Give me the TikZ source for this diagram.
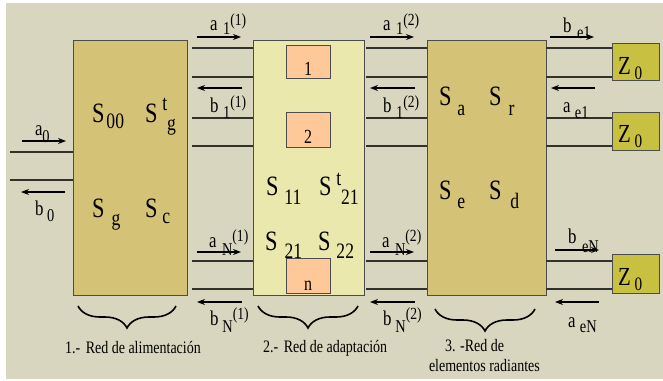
\documentclass[tikz,border=0pt]{standalone}
\usepackage{fontspec}
\setmainfont{Liberation Serif}
\usetikzlibrary{arrows.meta,decorations.pathreplacing}
\definecolor{bgc}{RGB}{217,214,192}
\definecolor{tanc}{RGB}{212,194,118}
\definecolor{palec}{RGB}{234,232,172}
\definecolor{salm}{RGB}{255,200,152}
\definecolor{olivc}{RGB}{200,192,64}
\definecolor{lnc}{RGB}{50,50,45}
\newcommand{\cx}[1]{\scalebox{0.8}[1]{#1}}
\newcommand{\bs}{\fontsize{21}{21}\selectfont}
\newcommand{\sbb}[2]{\raisebox{-#1pt}{\fontsize{18}{18}\selectfont #2}}
\newcommand{\spp}[2]{\raisebox{#1pt}{\fontsize{17}{17}\selectfont #2}}
\newcommand{\Sbig}{\fontsize{28}{28}\selectfont S}
\newcommand{\Ssb}[2]{\raisebox{-#1pt}{\fontsize{22}{22}\selectfont #2}}
\newcommand{\Ssp}[2]{\raisebox{#1pt}{\fontsize{22}{22}\selectfont #2}}
\newcommand{\Zl}{\cx{\fontsize{26}{26}\selectfont Z\hspace{5pt}\raisebox{-5pt}{\fontsize{19}{19}\selectfont 0}}}
\begin{document}
\begin{tikzpicture}[x=1pt,y=-1pt,
  blk/.style={draw=black!70,line width=0.9pt,anchor=north west,inner sep=0,outer sep=0},
  ln/.style={draw=lnc,line width=1.2pt},
  arr/.style={draw=black,line width=1.1pt,-{Stealth[length=8pt,width=6pt]}},
  lab/.style={anchor=base west,inner sep=0,outer sep=0},
  brc/.style={draw=black,line width=1.6pt,decorate,decoration={brace,mirror,amplitude=22pt,aspect=0.5}},
  captxt/.style={anchor=base west,inner sep=0,outer sep=0,font=\fontsize{17.5}{17.5}\selectfont}]
\useasboundingbox (0,0) rectangle (663,380);
\fill[white] (0,0) rectangle (663,380);
\fill[bgc] (6,3) rectangle (663,379);

% blocks
\node[blk,fill=tanc,minimum width=114pt,minimum height=255pt] (B1) at (73,40) {};
\node[blk,fill=palec,minimum width=111pt,minimum height=255pt] (B2) at (253,40) {};
\node[blk,fill=tanc,minimum width=119pt,minimum height=255pt] (B3) at (427,40) {};

% small boxes in block 2
\node[blk,fill=salm,minimum width=44pt,minimum height=33pt] (n1) at (286,45) {};
\node[blk,fill=salm,minimum width=44pt,minimum height=35pt] (n2) at (286,112) {};
\node[blk,fill=salm,minimum width=44pt,minimum height=35pt] (nn) at (286,258) {};
\node[lab,anchor=base] (t1) at (308,75) {\cx{\fontsize{20}{20}\selectfont 1}};
\node[lab,anchor=base] (t2) at (308,143) {\cx{\fontsize{20}{20}\selectfont 2}};
\node[lab,anchor=base] (tn) at (308,290) {\cx{\fontsize{20}{20}\selectfont n}};

% Z0 loads
\node[blk,fill=olivc,minimum width=47pt,minimum height=37pt] (Z1) at (612,43) {};
\node[blk,fill=olivc,minimum width=47pt,minimum height=38pt] (Z2) at (612,112) {};
\node[blk,fill=olivc,minimum width=47pt,minimum height=39pt] (Z3) at (612,254) {};
\node[lab] (z1t) at (618,74) {\Zl};
\node[lab] (z2t) at (618,142) {\Zl};
\node[lab] (z3t) at (618,285) {\Zl};

% input lines
\coordinate (i1) at (10,152); \coordinate (i2) at (10,180);
\draw[ln] (i1) -- (i1 -| B1.west);
\draw[ln] (i2) -- (i2 -| B1.west);

% lines between blocks and to loads
\foreach \yy/\nm in {48/a,77/b,118/c,146/d,261/e,289/f}{
  \coordinate (p\nm) at (192,\yy);
  \coordinate (q\nm) at (366,\yy);
  \coordinate (r\nm) at (B3.east |- 0,\yy);
  \draw[ln] (p\nm) -- (p\nm -| B2.west);
  \draw[ln] (q\nm) -- (q\nm -| B3.west);
}
\draw[ln] (ra) -- (ra -| Z1.west);
\draw[ln] (rb) -- (rb -| Z1.west);
\draw[ln] (rc) -- (rc -| Z2.west);
\draw[ln] (rd) -- (rd -| Z2.west);
\draw[ln] (re) -- (re -| Z3.west);
\draw[ln] (rf) -- (rf -| Z3.west);

% S-parameter labels
\node[lab] (s00) at (92,122) {\cx{\Sbig\hspace{2.5pt}\Ssb{6}{00}}};
\node[lab] (stg) at (145,122) {\cx{\Sbig\hspace{6pt}\Ssp{12}{t}\Ssb{8}{g}}};
\node[lab] (sg) at (92,217) {\cx{\Sbig\hspace{9pt}\Ssb{8}{g}}};
\node[lab] (sc) at (145,217) {\cx{\Sbig\hspace{6pt}\Ssb{6}{c}}};
\node[lab] (s11) at (266,195) {\cx{\Sbig\hspace{7.5pt}\Ssb{9}{11}}};
\node[lab] (st21) at (319,195) {\cx{\Sbig\hspace{6pt}\Ssp{10}{t}\Ssb{9}{21}}};
\node[lab] (s21) at (265,250) {\cx{\Sbig\hspace{9pt}\Ssb{8}{21}}};
\node[lab] (s22) at (318,250) {\cx{\Sbig\hspace{7.5pt}\Ssb{8}{22}}};
\node[lab] (sa) at (439,105) {\cx{\Sbig\hspace{7.5pt}\Ssb{10}{a}}};
\node[lab] (sr) at (489,105) {\cx{\Sbig\hspace{9pt}\Ssb{10}{r}}};
\node[lab] (se) at (439,199) {\cx{\Sbig\hspace{7.5pt}\Ssb{9}{e}}};
\node[lab] (sd) at (489,199) {\cx{\Sbig\hspace{11pt}\Ssb{9}{d}}};

% wave arrows
\coordinate (a0s) at (22,141); \coordinate (a0e) at (66,141);
\coordinate (b0s) at (65,192); \coordinate (b0e) at (21,192);
\draw[arr] (a0s) -- (a0e);
\draw[arr] (b0s) -- (b0e);
\node[lab] (la0) at (35,135) {\cx{\bs a\sbb{7}{0}}};
\node[lab] (lb0) at (35,215) {\cx{\bs b\hspace{4.5pt}\sbb{6}{0}}};

\foreach \xo/\sp in {0/1,173/2}{
  \coordinate (ua\sp) at (197+\xo,37); \coordinate (va\sp) at (241+\xo,37);
  \coordinate (ub\sp) at (242+\xo,88); \coordinate (vb\sp) at (197+\xo,88);
  \coordinate (uc\sp) at (197+\xo,252); \coordinate (vc\sp) at (241+\xo,252);
  \coordinate (ud\sp) at (242+\xo,302); \coordinate (vd\sp) at (197+\xo,302);
  \draw[arr] (ua\sp) -- (va\sp);
  \draw[arr] (ub\sp) -- (vb\sp);
  \draw[arr] (uc\sp) -- (vc\sp);
  \draw[arr] (ud\sp) -- (vd\sp);
  \node[lab] (wa\sp) at (210+\xo,30) {\cx{\bs a\hspace{7pt}\sbb{5}{1}\spp{5}{(\sp)}}};
  \node[lab] (wb\sp) at (210+\xo,112) {\cx{\bs b\hspace{6pt}\sbb{6}{1}\spp{5}{(\sp)}}};
  \node[lab] (wc\sp) at (209+\xo,247) {\cx{\bs a\hspace{7pt}\sbb{8}{N}\spp{6}{(\sp)}}};
  \node[lab] (wd\sp) at (210+\xo,325) {\cx{\bs b\hspace{5pt}\sbb{7}{N}\spp{6}{(\sp)}}};
}

\coordinate (be1s) at (550,37); \coordinate (be1e) at (594,37);
\coordinate (ae1s) at (595,88); \coordinate (ae1e) at (551,88);
\coordinate (bens) at (555,250); \coordinate (bene) at (599,250);
\coordinate (aens) at (599,302); \coordinate (aene) at (555,302);
\draw[arr] (be1s) -- (be1e);
\draw[arr] (ae1s) -- (ae1e);
\draw[arr] (bens) -- (bene);
\draw[arr] (aens) -- (aene);
\node[lab] (lbe1) at (563,32) {\cx{\bs b\hspace{7pt}\sbb{6}{e1}}};
\node[lab] (lae1) at (563,112) {\cx{\bs a\hspace{5.5pt}\sbb{6}{e1}}};
\node[lab] (lben) at (568,243) {\cx{\bs b\hspace{7pt}\sbb{9}{eN}}};
\node[lab] (laen) at (568,327) {\cx{\bs a\hspace{5.5pt}\sbb{5}{eN}}};

% braces
\coordinate (br1a) at (78,306); \coordinate (br1b) at (176,306);
\coordinate (br2a) at (258,306); \coordinate (br2b) at (358,306);
\coordinate (br3a) at (435,309); \coordinate (br3b) at (535,309);
\draw[brc] (br1a) -- (br1b);
\draw[brc] (br2a) -- (br2b);
\draw[brc] (br3a) -- (br3b);
\node[captxt] (c1) at (65,353) {\cx{1.-\hspace{7pt}Red de alimentación}};
\node[captxt] (c2) at (263,352) {\cx{2.-\hspace{7pt}Red de adaptación}};
\node[captxt] (c3) at (445,351) {\cx{3. -Red de}};
\node[captxt] (c3b) at (429,371) {\cx{elementos radiantes}};
\end{tikzpicture}
\end{document}
